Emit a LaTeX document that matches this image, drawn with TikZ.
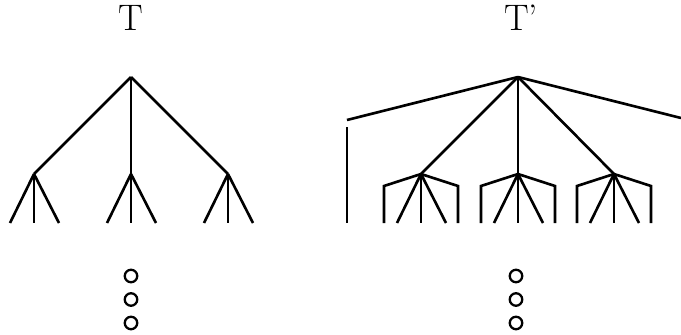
\documentclass[tikz,border=0pt]{standalone}
\usepackage{tikz}
\usetikzlibrary{positioning, calc}

\begin{document}
\begin{tikzpicture}[
  x=0.02cm, y=-0.02cm,
  edge/.style={line width=1.5pt, line cap=butt, line join=miter},
  dot/.style={circle, draw, line width=1.3pt, minimum size=0.25cm, inner sep=0pt},
  label/.style={font=\fontsize{21}{24}\selectfont, inner sep=0pt}
]
\useasboundingbox (0,0) rectangle (681,335);

% tree T
\node[label] (tT) at (131,18) {T};
\coordinate (t) at (131,77);
\coordinate (t1) at (34,174);
\coordinate (t2) at (131,174);
\coordinate (t3) at (228,174);
\draw[edge] (t) -- (t1);
\draw[edge] (t) -- (t2);
\draw[edge] (t) -- (t3);
\foreach \c in {t1,t2,t3}{
  \coordinate (\c l) at ($(\c)+(-24,49)$);
  \coordinate (\c m) at ($(\c)+(0,49)$);
  \coordinate (\c r) at ($(\c)+(25,49)$);
  \draw[edge] (\c) -- (\c l);
  \draw[edge] (\c) -- (\c m);
  \draw[edge] (\c) -- (\c r);
}
\node[dot] (td1) at (131,276) {};
\node[dot, below=0.47cm of td1.center, anchor=center] (td2) {};
\node[dot, below=0.47cm of td2.center, anchor=center] (td3) {};

% tree T'
\node[label] (tS) at (521,18) {T'};
\coordinate (s) at (518,77);
\coordinate (sl) at (347,120);
\coordinate (sr) at (681,118);
\coordinate (sv) at (347,127);
\coordinate (svb) at (347,223);
\coordinate (s1) at (421,174);
\coordinate (s2) at (518,174);
\coordinate (s3) at (614,174);
\draw[edge] (s) -- (sl);
\draw[edge] (s) -- (sr);
\draw[edge] (sv) -- (svb);
\draw[edge] (s) -- (s1);
\draw[edge] (s) -- (s2);
\draw[edge] (s) -- (s3);
\foreach \c in {s1,s2,s3}{
  \coordinate (\c l) at ($(\c)+(-24,49)$);
  \coordinate (\c m) at ($(\c)+(0,49)$);
  \coordinate (\c r) at ($(\c)+(25,49)$);
  \coordinate (\c a) at ($(\c)+(-37,12)$);
  \coordinate (\c b) at ($(\c)+(37,12)$);
  \draw[edge] (\c) -- (\c l);
  \draw[edge] (\c) -- (\c m);
  \draw[edge] (\c) -- (\c r);
  \draw[edge] (\c) -- (\c a) -- ++(0,37);
  \draw[edge] (\c) -- (\c b) -- ++(0,37);
}
\node[dot] (sd1) at (516,276) {};
\node[dot, below=0.47cm of sd1.center, anchor=center] (sd2) {};
\node[dot, below=0.47cm of sd2.center, anchor=center] (sd3) {};

\end{tikzpicture}
\end{document}
